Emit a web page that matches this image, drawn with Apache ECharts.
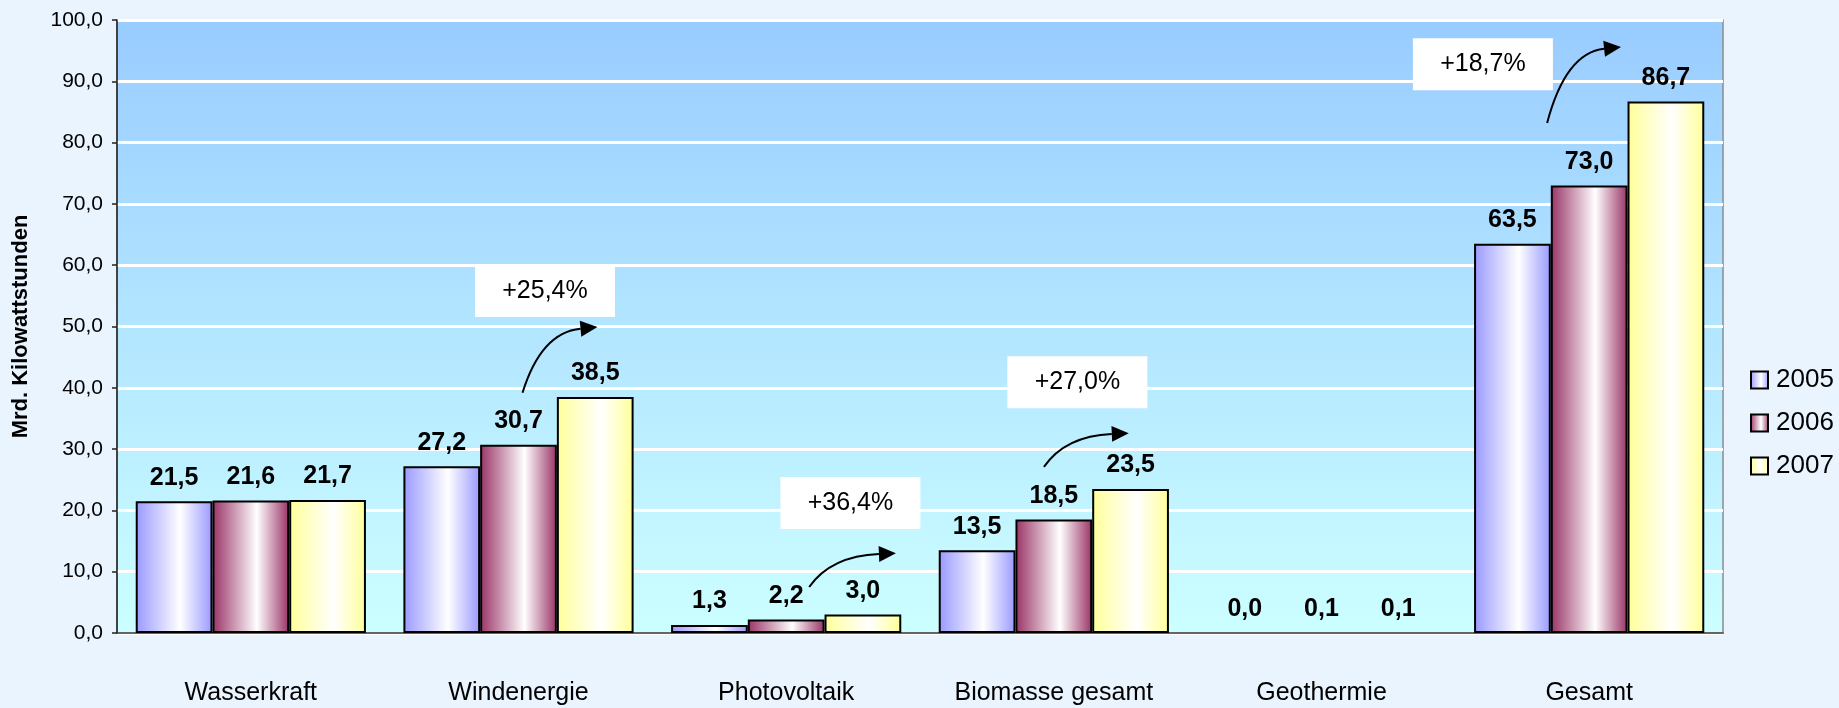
<!DOCTYPE html>
<html>
<head>
<meta charset="utf-8">
<script src="https://cdn.jsdelivr.net/npm/echarts@6/dist/echarts.min.js"></script>
<style>
    html, body { margin: 0; padding: 0; background: #EAF4FF; }
    #chart { width: 1839px; height: 708px; }
</style>
</head>
<body>
<div id="chart"></div>
<script>
// Daten
const categories = ['Wasserkraft', 'Windenergie', 'Photovoltaik', 'Biomasse gesamt', 'Geothermie', 'Gesamt'];
const years = ['2005', '2006', '2007'];
const values2005 = [21.5, 27.2, 1.3, 13.5, 0.0, 63.5];
const values2006 = [21.6, 30.7, 2.2, 18.5, 0.1, 73.0];
const values2007 = [21.7, 38.5, 3.0, 23.5, 0.1, 86.7];
const growthLabels = ['+25,4%', '+36,4%', '+27,0%', '+18,7%'];
const growthCategories = [1, 2, 3, 5];

// Lage der Pfeile/Kästchen: [Anteil der Kategoriebreite ab Mitte, Wert]
const growthLayout = [
    { box: [0.099, 55.8], from: [0.015, 39.2], to: [0.295, 49.9] },
    { box: [0.24, 21.2], from: [0.086, 7.5], to: [0.41, 13.0] },
    { box: [0.088, 40.9], from: [-0.037, 27.1], to: [0.28, 32.6] },
    { box: [-0.397, 92.8], from: [-0.157, 83.2], to: [0.119, 95.6] },
];

const colors = ['#9999FF', '#993366', '#FFFF99'];
const fontFamily = '"Liberation Sans", Arial, sans-serif';

function fmt(v) {
    return Number(v).toFixed(1).replace('.', ',');
}

function barGradient(c) {
    return {
        type: 'linear', x: 0, y: 0, x2: 1, y2: 0,
        colorStops: [
            { offset: 0, color: c },
            { offset: 0.58, color: '#FFFFFF' },
            { offset: 1, color: c },
        ],
    };
}

let series = [values2005, values2006, values2007].map((vals, i) => ({
    type: 'bar',
    name: years[i],
    barGap: '0%',
    barCategoryGap: '14%',
    data: vals.map(v => ({
        value: v,
        itemStyle: v < 0.5 ? { borderWidth: 0, color: 'transparent' } : undefined,
    })),
    itemStyle: {
        color: barGradient(colors[i]),
        borderColor: '#000',
        borderWidth: 2,
    },
    label: {
        show: true,
        position: 'top',
        distance: 11,
        fontFamily: fontFamily,
        fontWeight: 'bold',
        fontSize: 25,
        color: '#000',
        formatter: p => fmt(p.value),
    },
}));

let option = {
    backgroundColor: '#EAF4FF',
    animation: false,
    grid: {
        left: 117,
        right: 116,
        top: 20,
        bottom: 75,
        show: true,
        backgroundColor: {
            type: 'linear', x: 0, y: 0, x2: 0, y2: 1,
            colorStops: [
                { offset: 0, color: '#99CCFF' },
                { offset: 1, color: '#CCFFFF' },
            ],
        },
        borderColor: '#8C8C8C',
        borderWidth: 1.5,
    },
    legend: {
        orient: 'vertical',
        left: 1745,
        top: 362,
        icon: 'rect',
        itemWidth: 17,
        itemHeight: 17,
        itemGap: 17,
        textStyle: {
            fontFamily: fontFamily,
            fontSize: 26,
            color: '#000',
            padding: [0, 0, 0, 3],
        },
    },
    xAxis: {
        type: 'category',
        data: categories,
        axisLine: { lineStyle: { color: '#333', width: 1.5 } },
        axisTick: { length: 8, lineStyle: { color: '#333', width: 1.5 } },
        axisLabel: {
            margin: 48,
            fontFamily: fontFamily,
            fontSize: 25,
            color: '#000',
        },
    },
    yAxis: {
        type: 'value',
        min: 0,
        max: 100,
        interval: 10,
        name: 'Mrd. Kilowattstunden',
        nameLocation: 'middle',
        nameGap: 85,
        nameTextStyle: {
            fontFamily: fontFamily,
            fontWeight: 'bold',
            fontSize: 22,
            color: '#000',
        },
        axisLine: { show: true, lineStyle: { color: '#222', width: 1.5 } },
        axisTick: { show: true, length: 5, lineStyle: { color: '#222', width: 1.5 } },
        splitLine: { lineStyle: { color: '#FFFFFF', width: 3 } },
        axisLabel: {
            margin: 14,
            fontFamily: fontFamily,
            fontSize: 21,
            color: '#000',
            formatter: v => fmt(v),
        },
    },
    series: series,
};

let chart = echarts.init(document.getElementById('chart'));
chart.setOption(option);

// Pfeile und Kästchen über die Achsen positionieren
function toPx(cat, frac, val) {
    let p0 = chart.convertToPixel({ gridIndex: 0 }, [0, 0]);
    let p1 = chart.convertToPixel({ gridIndex: 0 }, [1, 0]);
    let band = p1[0] - p0[0];
    let p = chart.convertToPixel({ gridIndex: 0 }, [cat, val]);
    return [p[0] + frac * band, p[1]];
}

function buildAnnotations() {
    let elements = [];
    growthLabels.forEach((txt, i) => {
        let cat = growthCategories[i];
        let lay = growthLayout[i];
        let c = toPx(cat, lay.box[0], lay.box[1]);
        let w = 140, h = 52;
        elements.push({
            type: 'rect',
            shape: { x: c[0] - w / 2, y: c[1] - h / 2, width: w, height: h },
            style: { fill: '#FFFFFF' },
            z: 10,
        });
        elements.push({
            type: 'text',
            x: c[0],
            y: c[1],
            style: {
                text: txt,
                align: 'center',
                verticalAlign: 'middle',
                fontFamily: fontFamily,
                fontSize: 25,
                fill: '#000',
            },
            z: 11,
        });
        let a = toPx(cat, lay.from[0], lay.from[1]);
        let b = toPx(cat, lay.to[0], lay.to[1]);
        let cp = [a[0] + 0.25 * (b[0] - a[0]), b[1] + 0.08 * (a[1] - b[1])];
        let dx = b[0] - cp[0], dy = b[1] - cp[1];
        let len = Math.sqrt(dx * dx + dy * dy);
        let ux = dx / len, uy = dy / len;
        let headLen = 17, headW = 8;
        let base = [b[0] - ux * headLen, b[1] - uy * headLen];
        elements.push({
            type: 'bezierCurve',
            shape: { x1: a[0], y1: a[1], x2: base[0], y2: base[1], cpx1: cp[0], cpy1: cp[1] },
            style: { stroke: '#000', lineWidth: 2, fill: null },
            z: 10,
        });
        elements.push({
            type: 'polygon',
            shape: {
                points: [
                    b,
                    [base[0] - uy * headW, base[1] + ux * headW],
                    [base[0] + uy * headW, base[1] - ux * headW],
                ],
            },
            style: { fill: '#000' },
            z: 10,
        });
    });
    chart.setOption({ graphic: { elements: elements } });
}
buildAnnotations();

window.addEventListener('resize', function () {
    chart.resize();
    buildAnnotations();
});
</script>
</body>
</html>
